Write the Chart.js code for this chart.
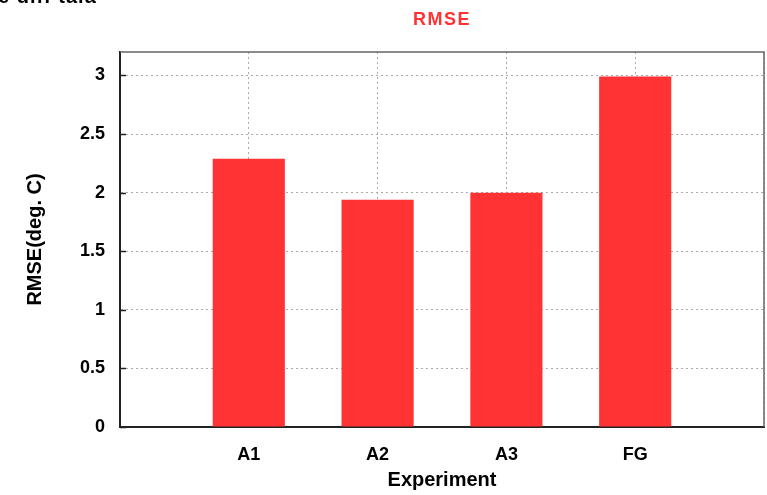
<!DOCTYPE html>
<html>
<head>
<meta charset="utf-8">
<script src="https://cdn.jsdelivr.net/npm/chart.js@4"></script>
<style>
  body { margin: 0; background: #fff; overflow: hidden; }
  #wrap { position: relative; width: 767px; height: 495px; }
  #cut { position: absolute; left: -2px; top: -15px; font: bold 20px "Liberation Sans", Arial, sans-serif; letter-spacing: 1px; color: #000; white-space: nowrap; }
</style>
</head>
<body>
<div id="wrap">
  <canvas id="chartRmse" width="767" height="495"></canvas>
  <div id="cut">e diff tala</div>
</div>
<script>
// labels with empty slots on each side, like the original plot
let experiments = ['', 'A1', 'A2', 'A3', 'FG', '']
let rmseValues = [null, 2.29, 1.94, 2.0, 2.99, null]
let yTicks = [0, 0.5, 1, 1.5, 2, 2.5, 3]
let chartTitle = 'RMSE'

const font = "'Liberation Sans', Arial, sans-serif"

// frame on top/right, small inward ticks on the y axis, title over the plot area
const framePlugin = {
    id: 'frame',
    afterDraw(chart) {
        let ctx = chart.ctx, a = chart.chartArea, y = chart.scales.y
        ctx.save()
        ctx.strokeStyle = '#666'
        ctx.lineWidth = 1.5
        ctx.beginPath()
        ctx.moveTo(a.left, a.top)
        ctx.lineTo(a.right, a.top)
        ctx.lineTo(a.right, a.bottom)
        ctx.stroke()
        ctx.strokeStyle = '#222'
        ctx.lineWidth = 1.5
        ctx.beginPath()
        yTicks.forEach(function (v) {
            let py = Math.round(y.getPixelForValue(v)) + 0.5
            ctx.moveTo(a.left, py)
            ctx.lineTo(a.left + 6, py)
        })
        ctx.stroke()

        ctx.fillStyle = 'rgb(255, 51, 51)'
        ctx.font = 'bold 18px ' + font
        ctx.letterSpacing = '1.5px'
        ctx.textAlign = 'center'
        ctx.textBaseline = 'middle'
        ctx.fillText(chartTitle, (a.left + a.right) / 2, 20)
        ctx.restore()
    }
}

new Chart(document.getElementById('chartRmse'), {
    type: 'bar',
    data: {
        labels: experiments,
        datasets: [{
            label: 'RMSE',
            data: rmseValues,
            backgroundColor: 'rgb(255, 51, 51)',
            borderWidth: 0,
            categoryPercentage: 1,
            barPercentage: 0.56
        }]
    },
    options: {
        responsive: false,
        animation: false,
        layout: { padding: { top: 52, right: 3, bottom: 3, left: 23 } },
        plugins: {
            legend: { display: false },
            tooltip: { enabled: false },
            title: { display: false }
        },
        scales: {
            x: {
                offset: false,
                afterFit: function (scale) {
                    scale.paddingLeft = 0
                    scale.paddingRight = 0
                    scale.height = 65
                },
                grid: {
                    offset: false,
                    color: '#aaa',
                    tickLength: 0,
                    drawTicks: false
                },
                border: { display: true, color: '#222', width: 2, dash: [2, 3] },
                ticks: {
                    color: '#000',
                    padding: 19,
                    font: { family: font, size: 18, weight: 'bold', lineHeight: 1 }
                },
                title: {
                    display: true,
                    text: 'Experiment',
                    color: '#000',
                    font: { family: font, size: 20, weight: 'bold' },
                    padding: { top: 0, bottom: 0 }
                }
            },
            y: {
                min: 0,
                max: 3.2,
                afterBuildTicks: function (scale) {
                    scale.ticks = yTicks.map(function (v) { return { value: v } })
                },
                afterFit: function (scale) {
                    scale.width = 97
                    scale.paddingTop = 0
                    scale.paddingBottom = 0
                },
                grid: {
                    color: '#aaa',
                    tickLength: 0,
                    drawTicks: false
                },
                border: { display: true, color: '#222', width: 2, dash: [2, 3] },
                ticks: {
                    color: '#000',
                    padding: 15,
                    font: { family: font, size: 18, weight: 'bold' },
                    callback: function (value) { return String(value) }
                },
                title: {
                    display: true,
                    text: 'RMSE(deg. C)',
                    color: '#000',
                    font: { family: font, size: 20, weight: 'bold' },
                    padding: { top: 0, bottom: 0 }
                }
            }
        }
    },
    plugins: [framePlugin]
})
</script>
</body>
</html>
